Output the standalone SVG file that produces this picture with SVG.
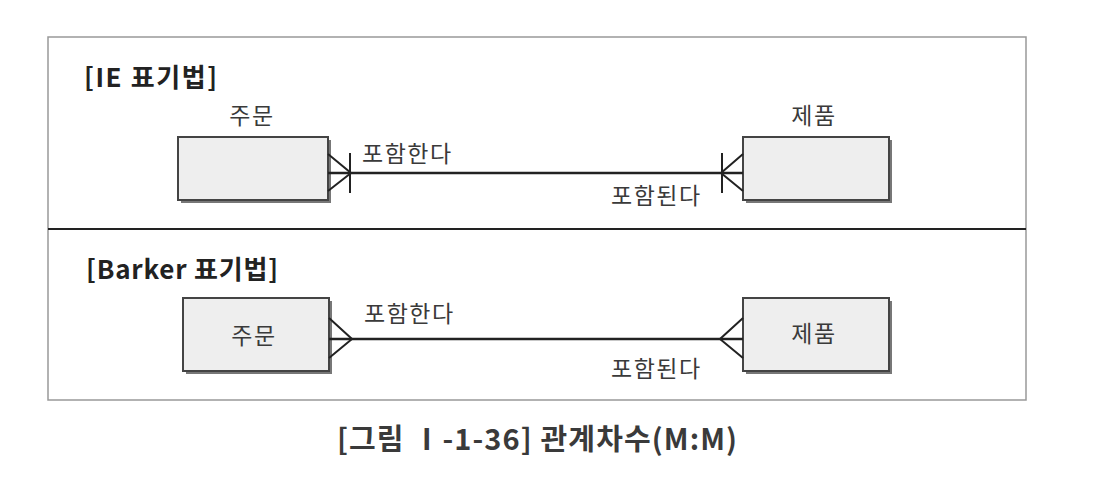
<svg xmlns="http://www.w3.org/2000/svg" width="1106" height="488" viewBox="0 0 1106 488">
<style>
text{font-family:"Noto Sans CJK KR","Noto Sans",sans-serif;fill:#3a3a3a}
.lbl{font-size:23px;letter-spacing:1.5px}
.hd{font-size:26px;fill:#222;font-weight:bold}
.box{fill:#eeeeee;stroke:#444;stroke-width:2}
.sh{fill:#777}
.ln{stroke:#222;stroke-width:2.5;fill:none}
.ft{stroke:#222;stroke-width:2;fill:none}
</style>
<rect width="1106" height="488" fill="#ffffff"/>
<rect x="48" y="37" width="978" height="363" fill="none" stroke="#999" stroke-width="1.5"/>
<line x1="48" y1="229" x2="1026" y2="229" stroke="#222" stroke-width="2"/>
<text class="hd" x="84" y="87" textLength="133" lengthAdjust="spacing">[IE 표기법]</text>
<text class="hd" x="86" y="279" textLength="192" lengthAdjust="spacing">[Barker 표기법]</text>
<g id="ie-order">
<rect class="sh" x="181" y="140" width="150" height="63"/>
<rect class="box" x="178" y="137" width="150" height="63"/>
<text class="lbl" x="252" y="124" text-anchor="middle">주문</text>
</g>
<g id="ie-product">
<rect class="sh" x="746" y="140" width="146" height="63"/>
<rect class="box" x="743" y="137" width="146" height="63"/>
<text class="lbl" x="814" y="124" text-anchor="middle">제품</text>
</g>
<g id="barker-order">
<rect class="sh" x="186" y="301" width="146" height="73"/>
<rect class="box" x="183" y="298" width="146" height="73"/>
<text class="lbl" x="254" y="344" text-anchor="middle">주문</text>
</g>
<g id="barker-product">
<rect class="sh" x="746" y="301" width="146" height="73"/>
<rect class="box" x="743" y="298" width="146" height="73"/>
<text class="lbl" x="814" y="342" text-anchor="middle">제품</text>
</g>
<g id="connectors">
<line class="ln" x1="328" y1="173" x2="743" y2="173"/>
<polyline class="ft" points="328,154 351,173 328,191"/>
<line class="ft" x1="350" y1="153" x2="350" y2="193"/>
<polyline class="ft" points="743,154 721,173 743,191"/>
<line class="ft" x1="722" y1="153" x2="722" y2="193"/>
<text class="lbl" x="362" y="162">포함한다</text>
<text class="lbl" x="611" y="204">포함된다</text>
<line class="ln" x1="329" y1="339" x2="743" y2="339"/>
<polyline class="ft" points="329,318 352,339 329,358"/>
<polyline class="ft" points="743,318 720,339 743,358"/>
<text class="lbl" x="364" y="322">포함한다</text>
<text class="lbl" x="611" y="377">포함된다</text>
</g>
<text x="337" y="450" font-size="29" font-weight="bold" fill="#222" textLength="400" lengthAdjust="spacing">[그림 Ⅰ-1-36] 관계차수(M:M)</text>
</svg>
